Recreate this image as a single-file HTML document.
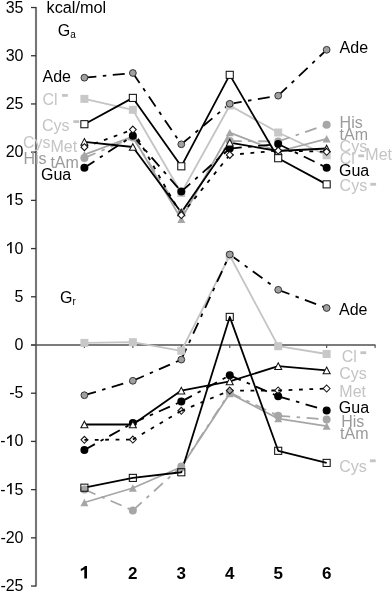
<!DOCTYPE html>
<html><head><meta charset="utf-8"><style>
html,body{margin:0;padding:0;background:#fff;}
svg{display:block;will-change:transform;}
text{font-family:"Liberation Sans",sans-serif;font-size:16px;fill:#000;}
</style></head><body>
<svg width="392" height="592" viewBox="0 0 392 592">
<line x1="36.0" y1="7" x2="36.0" y2="586.5" stroke="#767676" stroke-width="2.1"/>
<line x1="31" y1="7.53" x2="36.0" y2="7.53" stroke="#333" stroke-width="1.3"/>
<text x="23.5" y="12.53" text-anchor="end">35</text>
<line x1="31" y1="55.74" x2="36.0" y2="55.74" stroke="#333" stroke-width="1.3"/>
<text x="23.5" y="60.74" text-anchor="end">30</text>
<line x1="31" y1="103.95" x2="36.0" y2="103.95" stroke="#333" stroke-width="1.3"/>
<text x="23.5" y="108.95" text-anchor="end">25</text>
<line x1="31" y1="152.16" x2="36.0" y2="152.16" stroke="#333" stroke-width="1.3"/>
<text x="23.5" y="157.16" text-anchor="end">20</text>
<line x1="31" y1="200.37" x2="36.0" y2="200.37" stroke="#333" stroke-width="1.3"/>
<path d="M11.7 204.97 L10.1 204.97 L10.1 195.87 Q8.8 197.07 7.0 197.97 L7.0 196.57 Q8.3 195.97 9.3 195.07 Q10.0 194.37 10.4 193.67 L11.7 193.67 Z" fill="#000"/>
<text x="23.5" y="205.37" text-anchor="end"><tspan style="fill:none">1</tspan>5</text>
<line x1="31" y1="248.58" x2="36.0" y2="248.58" stroke="#333" stroke-width="1.3"/>
<path d="M11.7 253.18 L10.1 253.18 L10.1 244.08 Q8.8 245.28 7.0 246.18 L7.0 244.78 Q8.3 244.18 9.3 243.28 Q10.0 242.58 10.4 241.88 L11.7 241.88 Z" fill="#000"/>
<text x="23.5" y="253.58" text-anchor="end"><tspan style="fill:none">1</tspan>0</text>
<line x1="31" y1="296.79" x2="36.0" y2="296.79" stroke="#333" stroke-width="1.3"/>
<text x="23.5" y="301.79" text-anchor="end">5</text>
<line x1="31" y1="345.00" x2="36.0" y2="345.00" stroke="#333" stroke-width="1.3"/>
<text x="23.5" y="350.00" text-anchor="end">0</text>
<line x1="31" y1="393.21" x2="36.0" y2="393.21" stroke="#333" stroke-width="1.3"/>
<text x="23.5" y="398.21" text-anchor="end">-5</text>
<line x1="31" y1="441.42" x2="36.0" y2="441.42" stroke="#333" stroke-width="1.3"/>
<path d="M11.7 446.02 L10.1 446.02 L10.1 436.92 Q8.8 438.12 7.0 439.02 L7.0 437.62 Q8.3 437.02 9.3 436.12 Q10.0 435.42 10.4 434.72 L11.7 434.72 Z" fill="#000"/>
<text x="23.5" y="446.42" text-anchor="end">-<tspan style="fill:none">1</tspan>0</text>
<line x1="31" y1="489.63" x2="36.0" y2="489.63" stroke="#333" stroke-width="1.3"/>
<path d="M11.7 494.23 L10.1 494.23 L10.1 485.13 Q8.8 486.33 7.0 487.23 L7.0 485.83 Q8.3 485.23 9.3 484.33 Q10.0 483.63 10.4 482.93 L11.7 482.93 Z" fill="#000"/>
<text x="23.5" y="494.63" text-anchor="end">-<tspan style="fill:none">1</tspan>5</text>
<line x1="31" y1="537.84" x2="36.0" y2="537.84" stroke="#333" stroke-width="1.3"/>
<text x="23.5" y="542.84" text-anchor="end">-20</text>
<line x1="31" y1="586.05" x2="36.0" y2="586.05" stroke="#333" stroke-width="1.3"/>
<text x="23.5" y="591.05" text-anchor="end">-25</text>
<line x1="31" y1="345.00" x2="375.5" y2="345.00" stroke="#505050" stroke-width="1.7"/>
<line x1="84.40" y1="345.00" x2="84.40" y2="348.00" stroke="#555" stroke-width="1.2"/>
<line x1="132.85" y1="345.00" x2="132.85" y2="348.00" stroke="#555" stroke-width="1.2"/>
<line x1="181.30" y1="345.00" x2="181.30" y2="348.00" stroke="#555" stroke-width="1.2"/>
<line x1="229.75" y1="345.00" x2="229.75" y2="348.00" stroke="#555" stroke-width="1.2"/>
<line x1="278.20" y1="345.00" x2="278.20" y2="348.00" stroke="#555" stroke-width="1.2"/>
<line x1="326.65" y1="345.00" x2="326.65" y2="348.00" stroke="#555" stroke-width="1.2"/>
<line x1="375.10" y1="345.00" x2="375.10" y2="348.00" stroke="#555" stroke-width="1.2"/>
<polyline points="84.40,98.90 132.85,109.80 181.30,193.00 229.75,105.50 278.20,132.50 326.65,155.30" fill="none" stroke="#c4c4c4" stroke-width="1.8" stroke-linejoin="round"/>
<polyline points="84.40,154.60 132.85,136.50 181.30,219.20 229.75,132.60 278.20,151.50 326.65,138.80" fill="none" stroke="#a6a6a6" stroke-width="1.8" stroke-linejoin="round"/>
<line x1="84.40" y1="157.90" x2="132.85" y2="137.60" stroke="#a6a6a6" stroke-width="1.8" stroke-dasharray="12 6.5 3.5 6.5"/><line x1="132.85" y1="137.60" x2="181.30" y2="213.00" stroke="#a6a6a6" stroke-width="1.8" stroke-dasharray="12 6.5 3.5 6.5"/><line x1="181.30" y1="213.00" x2="229.75" y2="141.00" stroke="#a6a6a6" stroke-width="1.8" stroke-dasharray="12 6.5 3.5 6.5"/><line x1="229.75" y1="141.00" x2="278.20" y2="141.40" stroke="#a6a6a6" stroke-width="1.8" stroke-dasharray="12 6.5 3.5 6.5"/><line x1="278.20" y1="141.40" x2="326.65" y2="124.70" stroke="#a6a6a6" stroke-width="1.8" stroke-dasharray="12 6.5 3.5 6.5"/>
<line x1="84.40" y1="77.70" x2="132.85" y2="73.00" stroke="#000" stroke-width="1.8" stroke-dasharray="12 6.5 3.5 6.5"/><line x1="132.85" y1="73.00" x2="181.30" y2="144.30" stroke="#000" stroke-width="1.8" stroke-dasharray="12 6.5 3.5 6.5"/><line x1="181.30" y1="144.30" x2="229.75" y2="103.80" stroke="#000" stroke-width="1.8" stroke-dasharray="12 6.5 3.5 6.5"/><line x1="229.75" y1="103.80" x2="278.20" y2="95.70" stroke="#000" stroke-width="1.8" stroke-dasharray="12 6.5 3.5 6.5"/><line x1="278.20" y1="95.70" x2="326.65" y2="49.80" stroke="#000" stroke-width="1.8" stroke-dasharray="12 6.5 3.5 6.5"/>
<polyline points="84.40,124.20 132.85,97.90 181.30,166.30 229.75,74.85 278.20,158.20 326.65,184.35" fill="none" stroke="#000" stroke-width="1.8" stroke-linejoin="round"/>
<polyline points="84.40,141.80 132.85,147.00 181.30,212.50 229.75,142.60 278.20,151.00 326.65,148.50" fill="none" stroke="#000" stroke-width="1.8" stroke-linejoin="round"/>
<line x1="84.40" y1="147.20" x2="132.85" y2="129.60" stroke="#000" stroke-width="1.8" stroke-dasharray="3.8 6.6"/><line x1="132.85" y1="129.60" x2="181.30" y2="215.10" stroke="#000" stroke-width="1.8" stroke-dasharray="3.8 6.6"/><line x1="181.30" y1="215.10" x2="229.75" y2="154.90" stroke="#000" stroke-width="1.8" stroke-dasharray="3.8 6.6"/><line x1="229.75" y1="154.90" x2="278.20" y2="150.60" stroke="#000" stroke-width="1.8" stroke-dasharray="3.8 6.6"/><line x1="278.20" y1="150.60" x2="326.65" y2="151.80" stroke="#000" stroke-width="1.8" stroke-dasharray="3.8 6.6"/>
<line x1="84.40" y1="167.80" x2="132.85" y2="135.80" stroke="#000" stroke-width="1.8" stroke-dasharray="12 6.5 3.5 6.5"/><line x1="132.85" y1="135.80" x2="181.30" y2="191.60" stroke="#000" stroke-width="1.8" stroke-dasharray="12 6.5 3.5 6.5"/><line x1="181.30" y1="191.60" x2="229.75" y2="148.60" stroke="#000" stroke-width="1.8" stroke-dasharray="12 6.5 3.5 6.5"/><line x1="229.75" y1="148.60" x2="278.20" y2="144.00" stroke="#000" stroke-width="1.8" stroke-dasharray="12 6.5 3.5 6.5"/><line x1="278.20" y1="144.00" x2="326.65" y2="167.70" stroke="#000" stroke-width="1.8" stroke-dasharray="12 6.5 3.5 6.5"/>
<rect x="80.40" y="94.90" width="8.0" height="8.0" fill="#c8c8c8"/><rect x="128.85" y="105.80" width="8.0" height="8.0" fill="#c8c8c8"/><rect x="177.30" y="189.00" width="8.0" height="8.0" fill="#c8c8c8"/><rect x="225.75" y="101.50" width="8.0" height="8.0" fill="#c8c8c8"/><rect x="274.20" y="128.50" width="8.0" height="8.0" fill="#c8c8c8"/><rect x="322.65" y="151.30" width="8.0" height="8.0" fill="#c8c8c8"/>
<path d="M84.40,150.90 L88.40,158.30 L80.40,158.30Z" fill="#a6a6a6"/><path d="M132.85,132.80 L136.85,140.20 L128.85,140.20Z" fill="#a6a6a6"/><path d="M181.30,215.50 L185.30,222.90 L177.30,222.90Z" fill="#a6a6a6"/><path d="M229.75,128.90 L233.75,136.30 L225.75,136.30Z" fill="#a6a6a6"/><path d="M278.20,147.80 L282.20,155.20 L274.20,155.20Z" fill="#a6a6a6"/><path d="M326.65,135.10 L330.65,142.50 L322.65,142.50Z" fill="#a6a6a6"/>
<circle cx="84.40" cy="157.90" r="4.0" fill="#a6a6a6"/><circle cx="132.85" cy="137.60" r="4.0" fill="#a6a6a6"/><circle cx="181.30" cy="213.00" r="4.0" fill="#a6a6a6"/><circle cx="229.75" cy="141.00" r="4.0" fill="#a6a6a6"/><circle cx="278.20" cy="141.40" r="4.0" fill="#a6a6a6"/><circle cx="326.65" cy="124.70" r="4.0" fill="#a6a6a6"/>
<circle cx="84.40" cy="77.70" r="3.4" fill="#a0a0a0" stroke="#333" stroke-width="1.0"/><circle cx="132.85" cy="73.00" r="3.4" fill="#a0a0a0" stroke="#333" stroke-width="1.0"/><circle cx="181.30" cy="144.30" r="3.4" fill="#a0a0a0" stroke="#333" stroke-width="1.0"/><circle cx="229.75" cy="103.80" r="3.4" fill="#a0a0a0" stroke="#333" stroke-width="1.0"/><circle cx="278.20" cy="95.70" r="3.4" fill="#a0a0a0" stroke="#333" stroke-width="1.0"/><circle cx="326.65" cy="49.80" r="3.4" fill="#a0a0a0" stroke="#333" stroke-width="1.0"/>
<rect x="80.85" y="120.65" width="7.1" height="7.1" fill="#fff" stroke="#111" stroke-width="1.05"/><rect x="129.30" y="94.35" width="7.1" height="7.1" fill="#fff" stroke="#111" stroke-width="1.05"/><rect x="177.75" y="162.75" width="7.1" height="7.1" fill="#fff" stroke="#111" stroke-width="1.05"/><rect x="226.20" y="71.30" width="7.1" height="7.1" fill="#fff" stroke="#111" stroke-width="1.05"/><rect x="274.65" y="154.65" width="7.1" height="7.1" fill="#fff" stroke="#111" stroke-width="1.05"/><rect x="323.10" y="180.80" width="7.1" height="7.1" fill="#fff" stroke="#111" stroke-width="1.05"/>
<circle cx="84.40" cy="167.80" r="4.0" fill="#000"/><circle cx="132.85" cy="135.80" r="4.0" fill="#000"/><circle cx="181.30" cy="191.60" r="4.0" fill="#000"/><circle cx="229.75" cy="148.60" r="4.0" fill="#000"/><circle cx="278.20" cy="144.00" r="4.0" fill="#000"/><circle cx="326.65" cy="167.70" r="4.0" fill="#000"/>
<path d="M84.40,138.50 L87.90,145.10 L80.90,145.10Z" fill="#fff" stroke="#111" stroke-width="1.05"/><path d="M132.85,143.70 L136.35,150.30 L129.35,150.30Z" fill="#fff" stroke="#111" stroke-width="1.05"/><path d="M181.30,209.20 L184.80,215.80 L177.80,215.80Z" fill="#fff" stroke="#111" stroke-width="1.05"/><path d="M229.75,139.30 L233.25,145.90 L226.25,145.90Z" fill="#fff" stroke="#111" stroke-width="1.05"/><path d="M278.20,147.70 L281.70,154.30 L274.70,154.30Z" fill="#fff" stroke="#111" stroke-width="1.05"/><path d="M326.65,145.20 L330.15,151.80 L323.15,151.80Z" fill="#fff" stroke="#111" stroke-width="1.05"/>
<path d="M84.40,143.70 L87.80,147.20 L84.40,150.70 L81.00,147.20Z" fill="#fff" stroke="#111" stroke-width="1.05"/><path d="M132.85,126.10 L136.25,129.60 L132.85,133.10 L129.45,129.60Z" fill="#fff" stroke="#111" stroke-width="1.05"/><path d="M181.30,211.60 L184.70,215.10 L181.30,218.60 L177.90,215.10Z" fill="#fff" stroke="#111" stroke-width="1.05"/><path d="M229.75,151.40 L233.15,154.90 L229.75,158.40 L226.35,154.90Z" fill="#fff" stroke="#111" stroke-width="1.05"/><path d="M278.20,147.10 L281.60,150.60 L278.20,154.10 L274.80,150.60Z" fill="#fff" stroke="#111" stroke-width="1.05"/><path d="M326.65,148.30 L330.05,151.80 L326.65,155.30 L323.25,151.80Z" fill="#fff" stroke="#111" stroke-width="1.05"/>
<polyline points="84.40,342.90 132.85,342.20 181.30,350.80 229.75,255.50 278.20,346.20 326.65,354.00" fill="none" stroke="#c4c4c4" stroke-width="1.8" stroke-linejoin="round"/>
<line x1="84.40" y1="489.50" x2="132.85" y2="510.40" stroke="#a6a6a6" stroke-width="1.8" stroke-dasharray="12 6.5 3.5 6.5"/><line x1="132.85" y1="510.40" x2="181.30" y2="466.50" stroke="#a6a6a6" stroke-width="1.8" stroke-dasharray="12 6.5 3.5 6.5"/><line x1="181.30" y1="466.50" x2="229.75" y2="392.50" stroke="#a6a6a6" stroke-width="1.8" stroke-dasharray="12 6.5 3.5 6.5"/><line x1="229.75" y1="392.50" x2="278.20" y2="415.80" stroke="#a6a6a6" stroke-width="1.8" stroke-dasharray="12 6.5 3.5 6.5"/><line x1="278.20" y1="415.80" x2="326.65" y2="419.40" stroke="#a6a6a6" stroke-width="1.8" stroke-dasharray="12 6.5 3.5 6.5"/>
<polyline points="84.40,502.50 132.85,488.00 181.30,467.00 229.75,393.50 278.20,418.60 326.65,426.10" fill="none" stroke="#a6a6a6" stroke-width="1.8" stroke-linejoin="round"/>
<polyline points="84.40,487.70 132.85,477.90 181.30,472.25 229.75,316.90 278.20,450.80 326.65,462.90" fill="none" stroke="#000" stroke-width="1.8" stroke-linejoin="round"/>
<line x1="84.40" y1="439.85" x2="132.85" y2="439.60" stroke="#000" stroke-width="1.8" stroke-dasharray="3.8 6.6"/><line x1="132.85" y1="439.60" x2="181.30" y2="410.80" stroke="#000" stroke-width="1.8" stroke-dasharray="3.8 6.6"/><line x1="181.30" y1="410.80" x2="229.75" y2="390.60" stroke="#000" stroke-width="1.8" stroke-dasharray="3.8 6.6"/><line x1="229.75" y1="390.60" x2="278.20" y2="390.50" stroke="#000" stroke-width="1.8" stroke-dasharray="3.8 6.6"/><line x1="278.20" y1="390.50" x2="326.65" y2="388.50" stroke="#000" stroke-width="1.8" stroke-dasharray="3.8 6.6"/>
<line x1="84.40" y1="450.00" x2="132.85" y2="423.00" stroke="#000" stroke-width="1.8" stroke-dasharray="12 6.5 3.5 6.5"/><line x1="132.85" y1="423.00" x2="181.30" y2="401.60" stroke="#000" stroke-width="1.8" stroke-dasharray="12 6.5 3.5 6.5"/><line x1="181.30" y1="401.60" x2="229.75" y2="375.30" stroke="#000" stroke-width="1.8" stroke-dasharray="12 6.5 3.5 6.5"/><line x1="229.75" y1="375.30" x2="278.20" y2="396.30" stroke="#000" stroke-width="1.8" stroke-dasharray="12 6.5 3.5 6.5"/><line x1="278.20" y1="396.30" x2="326.65" y2="410.40" stroke="#000" stroke-width="1.8" stroke-dasharray="12 6.5 3.5 6.5"/>
<polyline points="84.40,424.50 132.85,424.50 181.30,390.60 229.75,381.40 278.20,366.10 326.65,370.40" fill="none" stroke="#000" stroke-width="1.8" stroke-linejoin="round"/>
<line x1="84.40" y1="395.20" x2="132.85" y2="380.80" stroke="#000" stroke-width="1.8" stroke-dasharray="12 6.5 3.5 6.5"/><line x1="132.85" y1="380.80" x2="181.30" y2="359.60" stroke="#000" stroke-width="1.8" stroke-dasharray="12 6.5 3.5 6.5"/><line x1="181.30" y1="359.60" x2="229.75" y2="254.50" stroke="#000" stroke-width="1.8" stroke-dasharray="12 6.5 3.5 6.5"/><line x1="229.75" y1="254.50" x2="278.20" y2="289.80" stroke="#000" stroke-width="1.8" stroke-dasharray="12 6.5 3.5 6.5"/><line x1="278.20" y1="289.80" x2="326.65" y2="308.00" stroke="#000" stroke-width="1.8" stroke-dasharray="12 6.5 3.5 6.5"/>
<rect x="80.40" y="338.90" width="8.0" height="8.0" fill="#c8c8c8"/><rect x="128.85" y="338.20" width="8.0" height="8.0" fill="#c8c8c8"/><rect x="177.30" y="346.80" width="8.0" height="8.0" fill="#c8c8c8"/><rect x="225.75" y="251.50" width="8.0" height="8.0" fill="#c8c8c8"/><rect x="274.20" y="342.20" width="8.0" height="8.0" fill="#c8c8c8"/><rect x="322.65" y="350.00" width="8.0" height="8.0" fill="#c8c8c8"/>
<path d="M84.40,498.80 L88.40,506.20 L80.40,506.20Z" fill="#a6a6a6"/><path d="M132.85,484.30 L136.85,491.70 L128.85,491.70Z" fill="#a6a6a6"/><path d="M181.30,463.30 L185.30,470.70 L177.30,470.70Z" fill="#a6a6a6"/><path d="M229.75,389.80 L233.75,397.20 L225.75,397.20Z" fill="#a6a6a6"/><path d="M278.20,414.90 L282.20,422.30 L274.20,422.30Z" fill="#a6a6a6"/><path d="M326.65,422.40 L330.65,429.80 L322.65,429.80Z" fill="#a6a6a6"/>
<circle cx="84.40" cy="489.50" r="4.0" fill="#a6a6a6"/><circle cx="132.85" cy="510.40" r="4.0" fill="#a6a6a6"/><circle cx="181.30" cy="466.50" r="4.0" fill="#a6a6a6"/><circle cx="229.75" cy="392.50" r="4.0" fill="#a6a6a6"/><circle cx="278.20" cy="415.80" r="4.0" fill="#a6a6a6"/><circle cx="326.65" cy="419.40" r="4.0" fill="#a6a6a6"/>
<circle cx="84.40" cy="450.00" r="4.0" fill="#000"/><circle cx="132.85" cy="423.00" r="4.0" fill="#000"/><circle cx="181.30" cy="401.60" r="4.0" fill="#000"/><circle cx="229.75" cy="375.30" r="4.0" fill="#000"/><circle cx="278.20" cy="396.30" r="4.0" fill="#000"/><circle cx="326.65" cy="410.40" r="4.0" fill="#000"/>
<path d="M84.40,421.20 L87.90,427.80 L80.90,427.80Z" fill="#fff" stroke="#111" stroke-width="1.05"/><path d="M132.85,421.20 L136.35,427.80 L129.35,427.80Z" fill="#fff" stroke="#111" stroke-width="1.05"/><path d="M181.30,387.30 L184.80,393.90 L177.80,393.90Z" fill="#fff" stroke="#111" stroke-width="1.05"/><path d="M229.75,378.10 L233.25,384.70 L226.25,384.70Z" fill="#fff" stroke="#111" stroke-width="1.05"/><path d="M278.20,362.80 L281.70,369.40 L274.70,369.40Z" fill="#fff" stroke="#111" stroke-width="1.05"/><path d="M326.65,367.10 L330.15,373.70 L323.15,373.70Z" fill="#fff" stroke="#111" stroke-width="1.05"/>
<rect x="80.85" y="484.15" width="7.1" height="7.1" fill="none" stroke="#111" stroke-width="1.05"/><rect x="129.30" y="474.35" width="7.1" height="7.1" fill="none" stroke="#111" stroke-width="1.05"/><rect x="177.75" y="468.70" width="7.1" height="7.1" fill="none" stroke="#111" stroke-width="1.05"/><rect x="226.20" y="313.35" width="7.1" height="7.1" fill="none" stroke="#111" stroke-width="1.05"/><rect x="274.65" y="447.25" width="7.1" height="7.1" fill="none" stroke="#111" stroke-width="1.05"/><rect x="323.10" y="459.35" width="7.1" height="7.1" fill="none" stroke="#111" stroke-width="1.05"/>
<path d="M84.40,436.35 L87.80,439.85 L84.40,443.35 L81.00,439.85Z" fill="none" stroke="#111" stroke-width="1.05"/><path d="M132.85,436.10 L136.25,439.60 L132.85,443.10 L129.45,439.60Z" fill="none" stroke="#111" stroke-width="1.05"/><path d="M181.30,407.30 L184.70,410.80 L181.30,414.30 L177.90,410.80Z" fill="none" stroke="#111" stroke-width="1.05"/><path d="M229.75,387.10 L233.15,390.60 L229.75,394.10 L226.35,390.60Z" fill="none" stroke="#111" stroke-width="1.05"/><path d="M278.20,387.00 L281.60,390.50 L278.20,394.00 L274.80,390.50Z" fill="none" stroke="#111" stroke-width="1.05"/><path d="M326.65,385.00 L330.05,388.50 L326.65,392.00 L323.25,388.50Z" fill="none" stroke="#111" stroke-width="1.05"/>
<circle cx="84.40" cy="395.20" r="3.4" fill="#a0a0a0" stroke="#333" stroke-width="1.0"/><circle cx="132.85" cy="380.80" r="3.4" fill="#a0a0a0" stroke="#333" stroke-width="1.0"/><circle cx="181.30" cy="359.60" r="3.4" fill="#a0a0a0" stroke="#333" stroke-width="1.0"/><circle cx="229.75" cy="254.50" r="3.4" fill="#a0a0a0" stroke="#333" stroke-width="1.0"/><circle cx="278.20" cy="289.80" r="3.4" fill="#a0a0a0" stroke="#333" stroke-width="1.0"/><circle cx="326.65" cy="308.00" r="3.4" fill="#a0a0a0" stroke="#333" stroke-width="1.0"/>
<text x="42.5" y="81.8" style="font-size:16px;fill:#000">Ade</text>
<text x="42.5" y="105.3" style="font-size:16px;fill:#c4c4c4">Cl</text>
<rect x="62.0" y="94.0" width="5.8" height="2.8" fill="#c4c4c4"/>
<text x="41.9" y="130.8" style="font-size:16px;fill:#c4c4c4">Cys</text>
<rect x="73.4" y="120.2" width="5.8" height="2.8" fill="#c4c4c4"/>
<text x="23.0" y="147.6" style="font-size:16px;fill:#c4c4c4">Cys</text>
<text x="50.5" y="152.3" style="font-size:16px;fill:#c4c4c4">Met</text>
<text x="23.5" y="164.0" style="font-size:16px;fill:#9a9a9a">His</text>
<text x="50.4" y="167.5" style="font-size:16px;fill:#9a9a9a">tAm</text>
<text x="41.0" y="180.1" style="font-size:16px;fill:#000">Gua</text>
<text x="339.6" y="52.8" style="font-size:16px;fill:#000">Ade</text>
<text x="339.6" y="128.1" style="font-size:16px;fill:#9a9a9a">His</text>
<text x="339.6" y="139.8" style="font-size:16px;fill:#9a9a9a">tAm</text>
<text x="339.6" y="152.1" style="font-size:16px;fill:#c4c4c4">Cys</text>
<text x="339.8" y="164.0" style="font-size:16px;fill:#c4c4c4">Cl</text>
<rect x="358.3" y="154.4" width="5.8" height="2.8" fill="#c4c4c4"/>
<text x="365.3" y="160.2" style="font-size:16px;fill:#c4c4c4">Met</text>
<text x="339.0" y="176.2" style="font-size:16px;fill:#000">Gua</text>
<text x="339.6" y="191.2" style="font-size:16px;fill:#c4c4c4">Cys</text>
<rect x="370.3" y="182.9" width="5.8" height="2.8" fill="#c4c4c4"/>
<text x="339.0" y="314.8" style="font-size:16px;fill:#000">Ade</text>
<text x="341.7" y="361.6" style="font-size:16px;fill:#c4c4c4">Cl</text>
<rect x="360.4" y="351.3" width="5.8" height="2.8" fill="#c4c4c4"/>
<text x="339.3" y="379.3" style="font-size:16px;fill:#c4c4c4">Cys</text>
<text x="339.3" y="396.8" style="font-size:16px;fill:#c4c4c4">Met</text>
<text x="338.8" y="413.2" style="font-size:16px;fill:#000">Gua</text>
<text x="341.2" y="426.5" style="font-size:16px;fill:#9a9a9a">His</text>
<text x="340.1" y="438.9" style="font-size:16px;fill:#9a9a9a">tAm</text>
<text x="339.3" y="472.3" style="font-size:16px;fill:#c4c4c4">Cys</text>
<rect x="369.9" y="459.4" width="5.8" height="2.8" fill="#c4c4c4"/>
<text x="46.5" y="13.1" style="font-size:16.3px;fill:#000">kcal/mol</text>
<text x="57.8" y="35.8" style="font-size:16px;fill:#000">G</text>
<text x="70.2" y="38.2" style="font-size:10px;fill:#000">a</text>
<text x="60.0" y="302.9" style="font-size:16px;fill:#000">G</text>
<text x="72.6" y="305.2" style="font-size:10px;fill:#000">r</text>
<text x="132.85" y="578.7" text-anchor="middle" style="font-size:17px;font-weight:bold">2</text>
<text x="181.30" y="578.7" text-anchor="middle" style="font-size:17px;font-weight:bold">3</text>
<text x="229.75" y="578.7" text-anchor="middle" style="font-size:17px;font-weight:bold">4</text>
<text x="278.20" y="578.7" text-anchor="middle" style="font-size:17px;font-weight:bold">5</text>
<text x="326.65" y="578.7" text-anchor="middle" style="font-size:17px;font-weight:bold">6</text>
<path d="M87.0 578.5 L84.3 578.5 L84.3 569.3 Q82.9 570.5 80.8 571.1 L80.8 568.7 Q82.3 568.2 83.5 567.2 Q84.6 566.3 85.1 565.9 L87.0 565.9 Z" fill="#000"/>
</svg>
</body></html>
